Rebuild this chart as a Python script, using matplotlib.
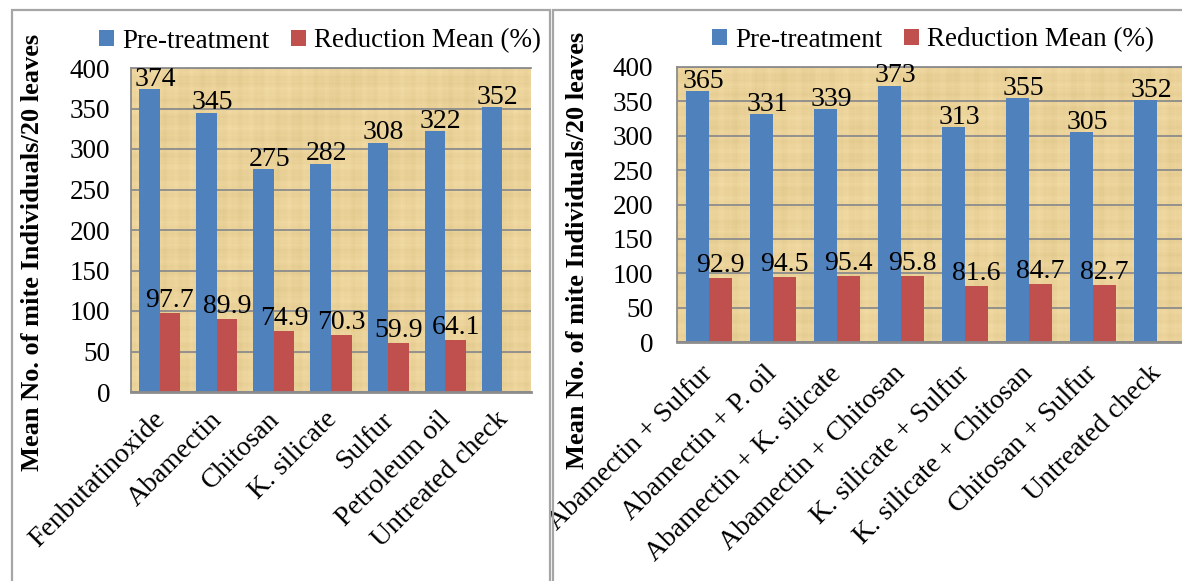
import numpy as np
import matplotlib
matplotlib.use("Agg")
import matplotlib.pyplot as plt
from matplotlib.patches import Rectangle
import matplotlib.transforms as mtransforms

# ---- data -------------------------------------------------------------
single_names = ["Fenbutatinoxide", "Abamectin", "Chitosan", "K. silicate",
                "Sulfur", "Petroleum oil", "Untreated check"]
single_pre = [374, 345, 275, 282, 308, 322, 352]
single_red = [97.7, 89.9, 74.9, 70.3, 59.9, 64.1, np.nan]

mix_names = ["Abamectin + Sulfur", "Abamectin + P. oil",
             "Abamectin + K. silicate", "Abamectin + Chitosan",
             "K. silicate + Sulfur", "K. silicate + Chitosan",
             "Chitosan + Sulfur", "Untreated check"]
mix_pre = [365, 331, 339, 373, 313, 355, 305, 352]
mix_red = [92.9, 94.5, 95.4, 95.8, 81.6, 84.7, 82.7, np.nan]

y_ticks = [0, 50, 100, 150, 200, 250, 300, 350, 400]
series_names = ["Pre-treatment", "Reduction Mean (%)"]
y_title = "Mean No. of mite Individuals/20 leaves"

# ---- style ------------------------------------------------------------
W, H = 1182, 581
BLUE = "#4F81BD"
RED = "#C0504D"
GRID = "#8C8C8C"
FRAME = "#A6A6A6"
plt.rcParams["font.family"] = ["Liberation Serif", "DejaVu Serif"]

fig = plt.figure(figsize=(W / 100, H / 100), dpi=100)
fig.patch.set_facecolor("white")


def px_rect(x0, y0, x1, y1):
    """Pixel box (top-left origin) -> figure fraction rect."""
    return [x0 / W, 1 - y1 / H, (x1 - x0) / W, (y1 - y0) / H]


def papyrus(nx=500, ny=320, seed_shift=0.0):
    """Soft woven, papyrus-like tan texture built from layered waves."""
    x = np.linspace(0, 1, nx)[None, :]
    y = np.linspace(0, 1, ny)[:, None]
    v = (0.30 * np.sin(2 * np.pi * (x * 21 + seed_shift))
         + 0.20 * np.sin(2 * np.pi * (x * 53 + 0.3 + seed_shift))
         + 0.12 * np.sin(2 * np.pi * (x * 131 + 0.6))
         + 0.30 * np.sin(2 * np.pi * (y * 17 + 0.1))
         + 0.20 * np.sin(2 * np.pi * (y * 41 + 0.7))
         + 0.12 * np.sin(2 * np.pi * (y * 97 + 0.2))
         + 0.25 * np.sin(2 * np.pi * (x * 3.1 + y * 2.3)))
    v = v / np.abs(v).max()
    base = np.array([234, 210, 153], dtype=float)
    tint = np.array([10, 11, 14], dtype=float)
    img = base[None, None, :] + v[:, :, None] * tint[None, None, :]
    return np.clip(img / 255.0, 0, 1)


# panel frames
fig.add_artist(Rectangle((12 / W, -0.1), (550 - 12) / W, 1 - 9.5 / H + 0.1,
                         transform=fig.transFigure, fill=False,
                         edgecolor=FRAME, lw=1.6))
fig.add_artist(Rectangle((552.5 / W, -0.1), 1.0, 1 - 9.5 / H + 0.1,
                         transform=fig.transFigure, fill=False,
                         edgecolor=FRAME, lw=1.6))


def draw_panel(rect, names, pre, red, ytick_pad, label_xy, legend_xy,
               shift, xlab_off):
    ax = fig.add_axes(rect)
    n = len(names)
    x = np.arange(n)
    w = 0.36
    ax.imshow(papyrus(seed_shift=shift), extent=[0, 1, 0, 1],
              transform=ax.transAxes, aspect="auto", zorder=0)
    ax.set_xlim(-0.5, n - 0.5)
    ax.set_ylim(0, 400)
    ax.set_yticks(y_ticks)
    ax.yaxis.grid(True, color=GRID, lw=1.3, zorder=1)
    ax.set_axisbelow(True)

    b1 = ax.bar(x - w / 2, pre, w, color=BLUE, zorder=2,
                label=series_names[0])
    red_arr = np.array(red, dtype=float)
    b2 = ax.bar(x + w / 2, np.nan_to_num(red_arr), w, color=RED, zorder=2,
                label=series_names[1])

    for xi, v in zip(x, pre):
        ax.annotate(f"{v:g}", (xi - w / 2, v), xytext=(4, -2),
                    textcoords="offset points", ha="center", va="bottom",
                    fontsize=20, zorder=4)
    for xi, v in zip(x, red_arr):
        if np.isnan(v):
            continue
        ax.annotate(f"{v:.1f}", (xi + w / 2, v), xytext=(0, 0),
                    textcoords="offset points", ha="center", va="bottom",
                    fontsize=20, zorder=4)

    for side in ("left", "top", "bottom"):
        ax.spines[side].set_color(GRID)
        ax.spines[side].set_linewidth(1.3)
    ax.spines["bottom"].set_linewidth(2.0)
    ax.spines["right"].set_visible(False)

    ax.tick_params(axis="y", length=0, pad=ytick_pad, labelsize=19.5)
    ax.tick_params(axis="x", length=0, pad=0)
    ax.set_xticks(x)
    ax.set_xticklabels(names, rotation=45, ha="right", va="center",
                       rotation_mode="anchor", fontsize=20)
    off = mtransforms.ScaledTranslation(xlab_off[0] / 100,
                                        -xlab_off[1] / 100,
                                        fig.dpi_scale_trans)
    for lab in ax.get_xticklabels():
        lab.set_transform(lab.get_transform() + off)

    fig.text(label_xy[0] / W, 1 - label_xy[1] / H, y_title, rotation=90,
             ha="center", va="center", fontsize=19, fontweight="bold")

    fig.legend(handles=[b1, b2], loc="center",
               bbox_to_anchor=(legend_xy[0] / W, 1 - legend_xy[1] / H),
               ncol=2, frameon=False, fontsize=19.5, handlelength=0.55,
               handleheight=0.55, handletextpad=0.3, columnspacing=0.8,
               borderaxespad=0)
    return ax


draw_panel(px_rect(131, 68, 531, 392), single_names, single_pre, single_red,
           ytick_pad=15, label_xy=(33, 252), legend_xy=(320, 41), shift=0.0,
           xlab_off=(2, 24))
draw_panel(px_rect(677, 67, 1189, 342), mix_names, mix_pre, mix_red,
           ytick_pad=17, label_xy=(577, 250), legend_xy=(933, 40), shift=0.4,
           xlab_off=(0, 28))

fig.savefig("out.png", dpi=100)
